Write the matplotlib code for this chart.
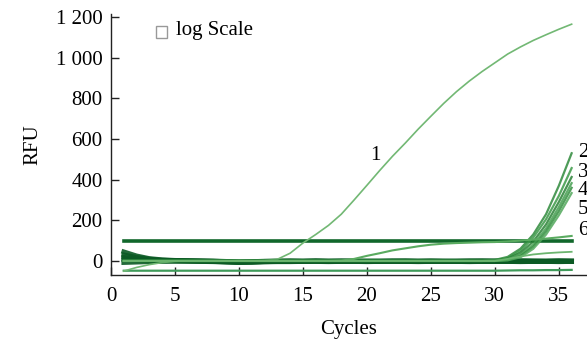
import matplotlib
matplotlib.use("Agg")
import matplotlib.pyplot as plt
from matplotlib.patches import Rectangle

plt.rcParams['font.family'] = ['Liberation Serif', 'DejaVu Serif']

cycles = list(range(1, 37))

curve1 = [-50, -32, -18, -8, -2, 0, 0, 0, 0, 0, 0, 2, 8, 38, 88, 130, 175, 230, 300, 372,
          445, 515, 580, 648, 712, 775, 833, 885, 932, 975, 1018, 1053, 1085, 1113, 1140, 1165]

curve2 = [0]*29 + [5, 20, 60, 130, 230, 370, 530]
curve3 = [0]*29 + [3, 15, 50, 115, 205, 320, 457]
curve4a = [0]*29 + [2, 12, 40, 95, 180, 290, 413]
curve4b = [0]*29 + [0, 8, 30, 80, 160, 265, 383]
curve5a = [0]*29 + [0, 5, 25, 70, 145, 245, 360]
curve5b = [0]*29 + [0, 3, 18, 60, 130, 225, 334]
curve6 = [0]*17 + [2, 10, 25, 38, 52, 62, 72, 80, 85, 88, 90, 92, 93, 96, 100, 105, 110, 116, 123]
curve7 = [0]*29 + [0, 10, 22, 32, 38, 42, 45]

threshold = [100]*36
low_line = [-48]*30 + [-47, -46, -46, -45, -45, -44]

baselines = [
    [45, 25, 12, 6, 3, 2, 1, 0, -2, -4, -3, -1, 0, 0, 0, 1, 0, 0, -1, 0,
     0, 0, 1, 0, 0, -1, 0, 0, 1, 0, 0, 1, 0, 0, 1, 0],
    [30, 18, 9, 4, 2, 1, 0, -1, -3, -5, -4, -2, -1, 0, -1, 0, -1, 0, 0, -1,
     -1, 0, 0, -1, 0, 0, -1, 0, 0, 0, -1, 0, 0, -1, 0, 0],
    [18, 10, 5, 2, 1, 0, -1, -2, -4, -6, -5, -3, -2, -1, -2, -1, -2, -1, -1, -2,
     -2, -1, -2, -2, -1, -2, -2, -1, -2, -2, -2, -1, -2, -2, -1, -2],
    [8, 4, 2, 1, 0, -1, -2, -3, -5, -7, -6, -4, -3, -3, -3, -2, -3, -3, -2, -3,
     -3, -2, -3, -3, -3, -2, -3, -3, -3, -3, -2, -3, -3, -3, -3, -3],
    [-8, -6, -4, -3, -2, -2, -3, -4, -6, -8, -7, -5, -4, -4, -3, -3, -4, -3, -3, -4,
     -3, -3, -3, -4, -3, -3, -3, -4, -3, -3, -3, -4, -3, -3, -4, -3],
]

fig = plt.figure(figsize=(5.87, 3.42), dpi=100)
ax = fig.add_axes([0.189, 0.196, 0.811, 0.763])

ax.plot(cycles, low_line, color='#3f9a5a', lw=1.6, zorder=2)
ax.plot(cycles, threshold, color='#11672b', lw=2.6, zorder=3)
for b in baselines:
    ax.plot(cycles, b, color='#0b5a24', lw=3.4, alpha=0.9, zorder=3)
ax.plot(cycles, curve1, color='#72b874', lw=1.2, zorder=4)
for c, col in [(curve2, '#2f8a3c'), (curve3, '#3c9a48'), (curve4a, '#2a8236'),
               (curve4b, '#47a052'), (curve5a, '#358f40'), (curve5b, '#52a85c')]:
    ax.plot(cycles, c, color=col, lw=1.6, alpha=0.85, zorder=4)
ax.plot(cycles, curve6, color='#5aab60', lw=1.5, zorder=4)
ax.plot(cycles, curve7, color='#6cb56f', lw=1.3, zorder=4)

ax.set_xlim(0, 37.2)
ax.set_ylim(-69, 1215)
ax.set_xticks([0, 5, 10, 15, 20, 25, 30, 35])
yt = [0, 200, 400, 600, 800, 1000, 1200]
ax.set_yticks(yt)
ax.set_yticklabels(['0', '200', '400', '600', '800', '1 000', '1 200'])

for s in ['top', 'right']:
    ax.spines[s].set_visible(False)
for s in ['left', 'bottom']:
    ax.spines[s].set_linewidth(1.0)
    ax.spines[s].set_color('#222222')

ax.tick_params(axis='both', direction='in', length=6, width=1, labelsize=15, color='#222222')
ax.tick_params(axis='x', pad=9)
ax.tick_params(axis='y', pad=6)

ax.set_xlabel('Cycles', fontsize=15, labelpad=10)
ax.set_ylabel('RFU', fontsize=15, labelpad=10)

# curve labels
ax.text(20.7, 520, '1', fontsize=15, ha='center', va='center')
for lab, yv in [('2', 536), ('3', 437), ('4', 349), ('5', 251), ('6', 152)]:
    ax.text(36.5, yv, lab, fontsize=15, ha='left', va='center', clip_on=False)

# checkbox
fig.patches.append(Rectangle((156/587, 1 - 38/342), 11/587, 12/342, transform=fig.transFigure,
                             fill=False, edgecolor='#999999', lw=1.0))
fig.text(176/587, 1 - 31/342, 'log Scale', fontsize=15, ha='left', va='center')

fig.savefig('out.png', dpi=100)
